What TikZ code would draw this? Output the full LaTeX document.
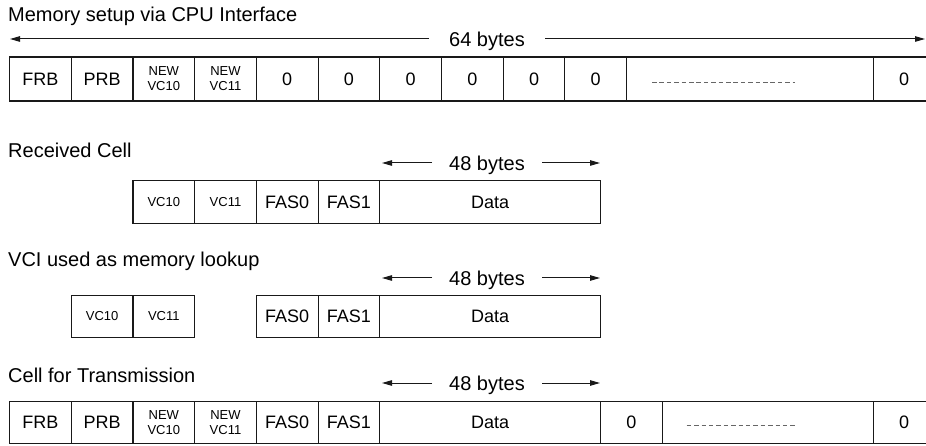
\documentclass[tikz,border=0pt]{standalone}
\usepackage{fontspec}
\setmainfont{Liberation Sans}
\usetikzlibrary{arrows.meta}

\begin{document}
\begin{tikzpicture}[x=1pt,y=-1pt,
  cell/.style={draw=black!90, line width=1.1pt, inner sep=0pt, anchor=west,
    minimum height=44pt, font=\fontsize{18}{18}\selectfont},
  cellB/.style={cell, minimum height=42.8pt},
  small/.style={font=\fontsize{13}{15}\selectfont, align=center},
  heading/.style={anchor=base west, inner sep=0pt, font=\fontsize{20}{20}\selectfont},
  bytes/.style={inner ysep=0pt, text depth=0pt, font=\fontsize{20}{20}\selectfont},
  span/.style={draw=black!90, line width=1pt, -{Triangle[length=10pt,width=5.5pt]}},
  filler/.style={draw=black!60, line width=0.8pt, dash pattern=on 4.5pt off 2.9pt},
]
\useasboundingbox (0,0) rectangle (926,446);
\clip (0,0) rectangle (926,446);

% ---------- memory setup via CPU interface ----------
\node[heading] (t1) at (8,22) {Memory setup via CPU Interface};
\node[bytes, inner xsep=20pt] (b64) at (487,39) {64 bytes};
\coordinate (l64) at (10,39);
\coordinate (r64) at (925,39);
\draw[span] (b64.west) -- (l64);
\draw[span] (b64.east) -- (r64);

\node[cell, minimum width=61.7] (m1) at (9,79) {FRB};
\node[cell, minimum width=61.7] (m2) at (70.7,79) {PRB};
\node[cell, minimum width=61.7, small] (m3) at (132.4,79) {NEW\\VC10};
\node[cell, minimum width=61.7, small] (m4) at (194.1,79) {NEW\\VC11};
\foreach \i/\x in {5/255.8,6/317.5,7/379.2,8/440.9,9/502.6,10/564.3}
  \node[cell, minimum width=61.7] (m\i) at (\x,79) {0};
\node[cell, minimum width=246.8] (m11) at (626,79) {};
\node[cell, minimum width=61.7] (m12) at (872.8,79) {0};
\draw[filler] ([xshift=26pt,yshift=-3pt]m11.west) -- ([xshift=-79pt,yshift=-3pt]m11.east);

% ---------- received cell ----------
\node[heading] (t2) at (8,158) {Received Cell};
\node[bytes, inner xsep=17pt] (b48a) at (487,163) {48 bytes};
\coordinate (l48a) at (382,163);
\coordinate (r48a) at (600,163);
\draw[span] (b48a.west) -- (l48a);
\draw[span] (b48a.east) -- (r48a);

\node[cellB, minimum width=61.7, small] (r1) at (132.4,202) {VC10};
\node[cellB, minimum width=61.7, small] (r2) at (194.1,202) {VC11};
\node[cellB, minimum width=61.7] (r3) at (255.8,202) {FAS0};
\node[cellB, minimum width=61.7] (r4) at (317.5,202) {FAS1};
\node[cellB, minimum width=220.8] (r5) at (379.2,202) {Data};

% ---------- VCI used as memory lookup ----------
\node[heading] (t3) at (8,267) {VCI used as memory lookup};
\node[bytes, inner xsep=17pt] (b48b) at (487,278) {48 bytes};
\coordinate (l48b) at (382,278);
\coordinate (r48b) at (600,278);
\draw[span] (b48b.west) -- (l48b);
\draw[span] (b48b.east) -- (r48b);

\node[cellB, minimum width=61.7, small] (v1) at (70.7,316.5) {VC10};
\node[cellB, minimum width=61.7, small] (v2) at (132.4,316.5) {VC11};
\node[cellB, minimum width=61.7] (v3) at (255.8,316.5) {FAS0};
\node[cellB, minimum width=61.7] (v4) at (317.5,316.5) {FAS1};
\node[cellB, minimum width=220.8] (v5) at (379.2,316.5) {Data};

% ---------- cell for transmission ----------
\node[heading] (t4) at (8,382) {Cell for Transmission};
\node[bytes, inner xsep=17pt] (b48c) at (487,383) {48 bytes};
\coordinate (l48c) at (382,383);
\coordinate (r48c) at (600,383);
\draw[span] (b48c.west) -- (l48c);
\draw[span] (b48c.east) -- (r48c);

\node[cellB, minimum width=61.7] (x1) at (9,422.5) {FRB};
\node[cellB, minimum width=61.7] (x2) at (70.7,422.5) {PRB};
\node[cellB, minimum width=61.7, small] (x3) at (132.4,422.5) {NEW\\VC10};
\node[cellB, minimum width=61.7, small] (x4) at (194.1,422.5) {NEW\\VC11};
\node[cellB, minimum width=61.7] (x5) at (255.8,422.5) {FAS0};
\node[cellB, minimum width=61.7] (x6) at (317.5,422.5) {FAS1};
\node[cellB, minimum width=220.8] (x7) at (379.2,422.5) {Data};
\node[cellB, minimum width=61.7] (x8) at (600,422.5) {0};
\node[cellB, minimum width=211.1] (x9) at (661.7,422.5) {};
\node[cellB, minimum width=61.7] (x10) at (872.8,422.5) {0};
\draw[filler] ([xshift=25pt,yshift=-3pt]x9.west) -- ([xshift=-77pt,yshift=-3pt]x9.east);
\end{tikzpicture}
\end{document}
